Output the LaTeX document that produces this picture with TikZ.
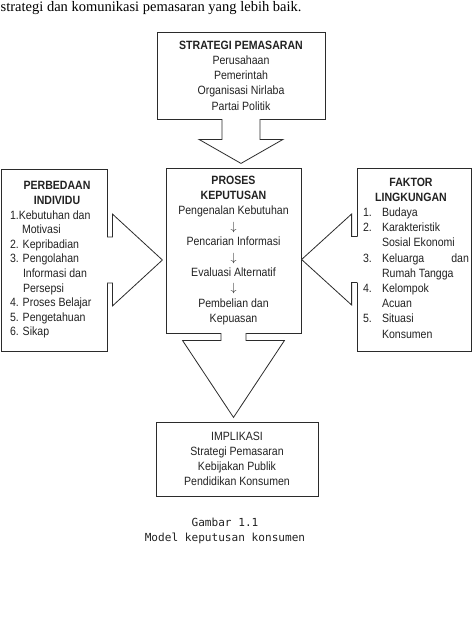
\documentclass[tikz,border=0pt]{standalone}
\usepackage{fontspec}
\usetikzlibrary{calc}
\newfontfamily\dfont{Liberation Sans}[FakeStretch=0.88]
\newfontfamily\serfont{Liberation Serif}
\newfontfamily\capfont{DejaVu Sans Mono}
\definecolor{ink}{HTML}{222222}
\definecolor{edge}{HTML}{2B2B2B}
\newcommand\blockarr[4]{%
  \fill[white] (-#1,-1.2) -- (-#1,#3) -- (-#2,#3) -- (0,#4) -- (#2,#3) -- (#1,#3) -- (#1,-1.2) -- cycle;
  \draw[blockarrow] (-#1,0) -- (-#1,#3) -- (-#2,#3) -- (0,#4) -- (#2,#3) -- (#1,#3) -- (#1,0);}
\newcommand\dn{$\downarrow$}
\begin{document}
\begin{tikzpicture}[x=1pt,y=-1pt,
  box/.style={draw=edge, line width=0.8pt, rectangle, inner sep=0pt, align=center, text=ink},
  txt/.style={inner sep=0pt, text=ink},
  blockarrow/.style={draw=edge, line width=0.8pt, line join=miter, line cap=rect}]
\useasboundingbox (0,0) rectangle (474,624);

\node[txt, anchor=base west, text=black, font=\serfont\fontsize{14.5}{16}\selectfont] (intro) at (0.5,11)
  {strategi dan komunikasi pemasaran yang lebih baik.};

\node[box, minimum width=168pt, minimum height=87pt, font=\dfont\fontsize{12}{15.25}\selectfont] (top) at (241,75.5)
  {\textbf{STRATEGI PEMASARAN}\\Perusahaan\\Pemerintah\\Organisasi Nirlaba\\Partai Politik};

\node[box, minimum width=135pt, minimum height=165pt, font=\dfont\fontsize{12}{15.4}\selectfont] (proc) at (233.5,250.5)
  {\textbf{PROSES}\\\textbf{KEPUTUSAN}\\Pengenalan Kebutuhan\\\dn\\Pencarian Informasi\\\dn\\Evaluasi Alternatif\\\dn\\Pembelian dan\\Kepuasan};

\node[box, minimum width=106pt, minimum height=182pt] (left) at (54,260) {};
\node[txt, text width=94pt, align=flush left, font=\dfont\fontsize{12}{14.6}\selectfont] (lefttxt) at (57,260)
  {\makebox[94pt]{\textbf{PERBEDAAN}}\\\makebox[94pt]{\textbf{INDIVIDU}}\\1.Kebutuhan dan\\\hspace*{12pt}Motivasi\\2. Kepribadian\\3. Pengolahan\\\hspace*{13pt}Informasi dan\\\hspace*{13pt}Persepsi\\4. Proses Belajar\\5. Pengetahuan\\6. Sikap};

\node[box, minimum width=114pt, minimum height=183pt] (right) at (414,259.5) {};
\node[txt, text width=106pt, align=flush left, font=\dfont\fontsize{12}{15.2}\selectfont] (righttxt) at (416,258)
  {\makebox[106pt]{\hspace*{-10pt}\textbf{FAKTOR}}\\\makebox[106pt]{\hspace*{-10pt}\textbf{LINGKUNGAN}}\\\makebox[19pt][l]{1.}Budaya\\\makebox[19pt][l]{2.}Karakteristik\\\hspace*{19pt}Sosial Ekonomi\\\makebox[19pt][l]{3.}Keluarga\hfill dan\\\hspace*{19pt}Rumah Tangga\\\makebox[19pt][l]{4.}Kelompok\\\hspace*{19pt}Acuan\\\makebox[19pt][l]{5.}Situasi\\\hspace*{19pt}Konsumen};

\node[box, minimum width=162pt, minimum height=74pt, font=\dfont\fontsize{12}{15}\selectfont] (impl) at (237,459)
  {IMPLIKASI\\Strategi Pemasaran\\Kebijakan Publik\\Pendidikan Konsumen};

\begin{scope}[shift={(top.south)}]
  \blockarr{19}{42}{20}{44}
\end{scope}
\begin{scope}[shift={(left.east)}, rotate=90]
  \blockarr{23}{46}{5}{55}
\end{scope}
\begin{scope}[shift={(right.west)}, rotate=-90]
  \blockarr{23}{45.5}{5}{55}
\end{scope}
\begin{scope}[shift={(proc.south)}]
  \blockarr{12.5}{51}{7}{84}
\end{scope}

\node[txt, align=center, font=\capfont\fontsize{11.1}{15}\selectfont] (cap) at (225,531)
  {Gambar 1.1\\Model keputusan konsumen};
\end{tikzpicture}
\end{document}
